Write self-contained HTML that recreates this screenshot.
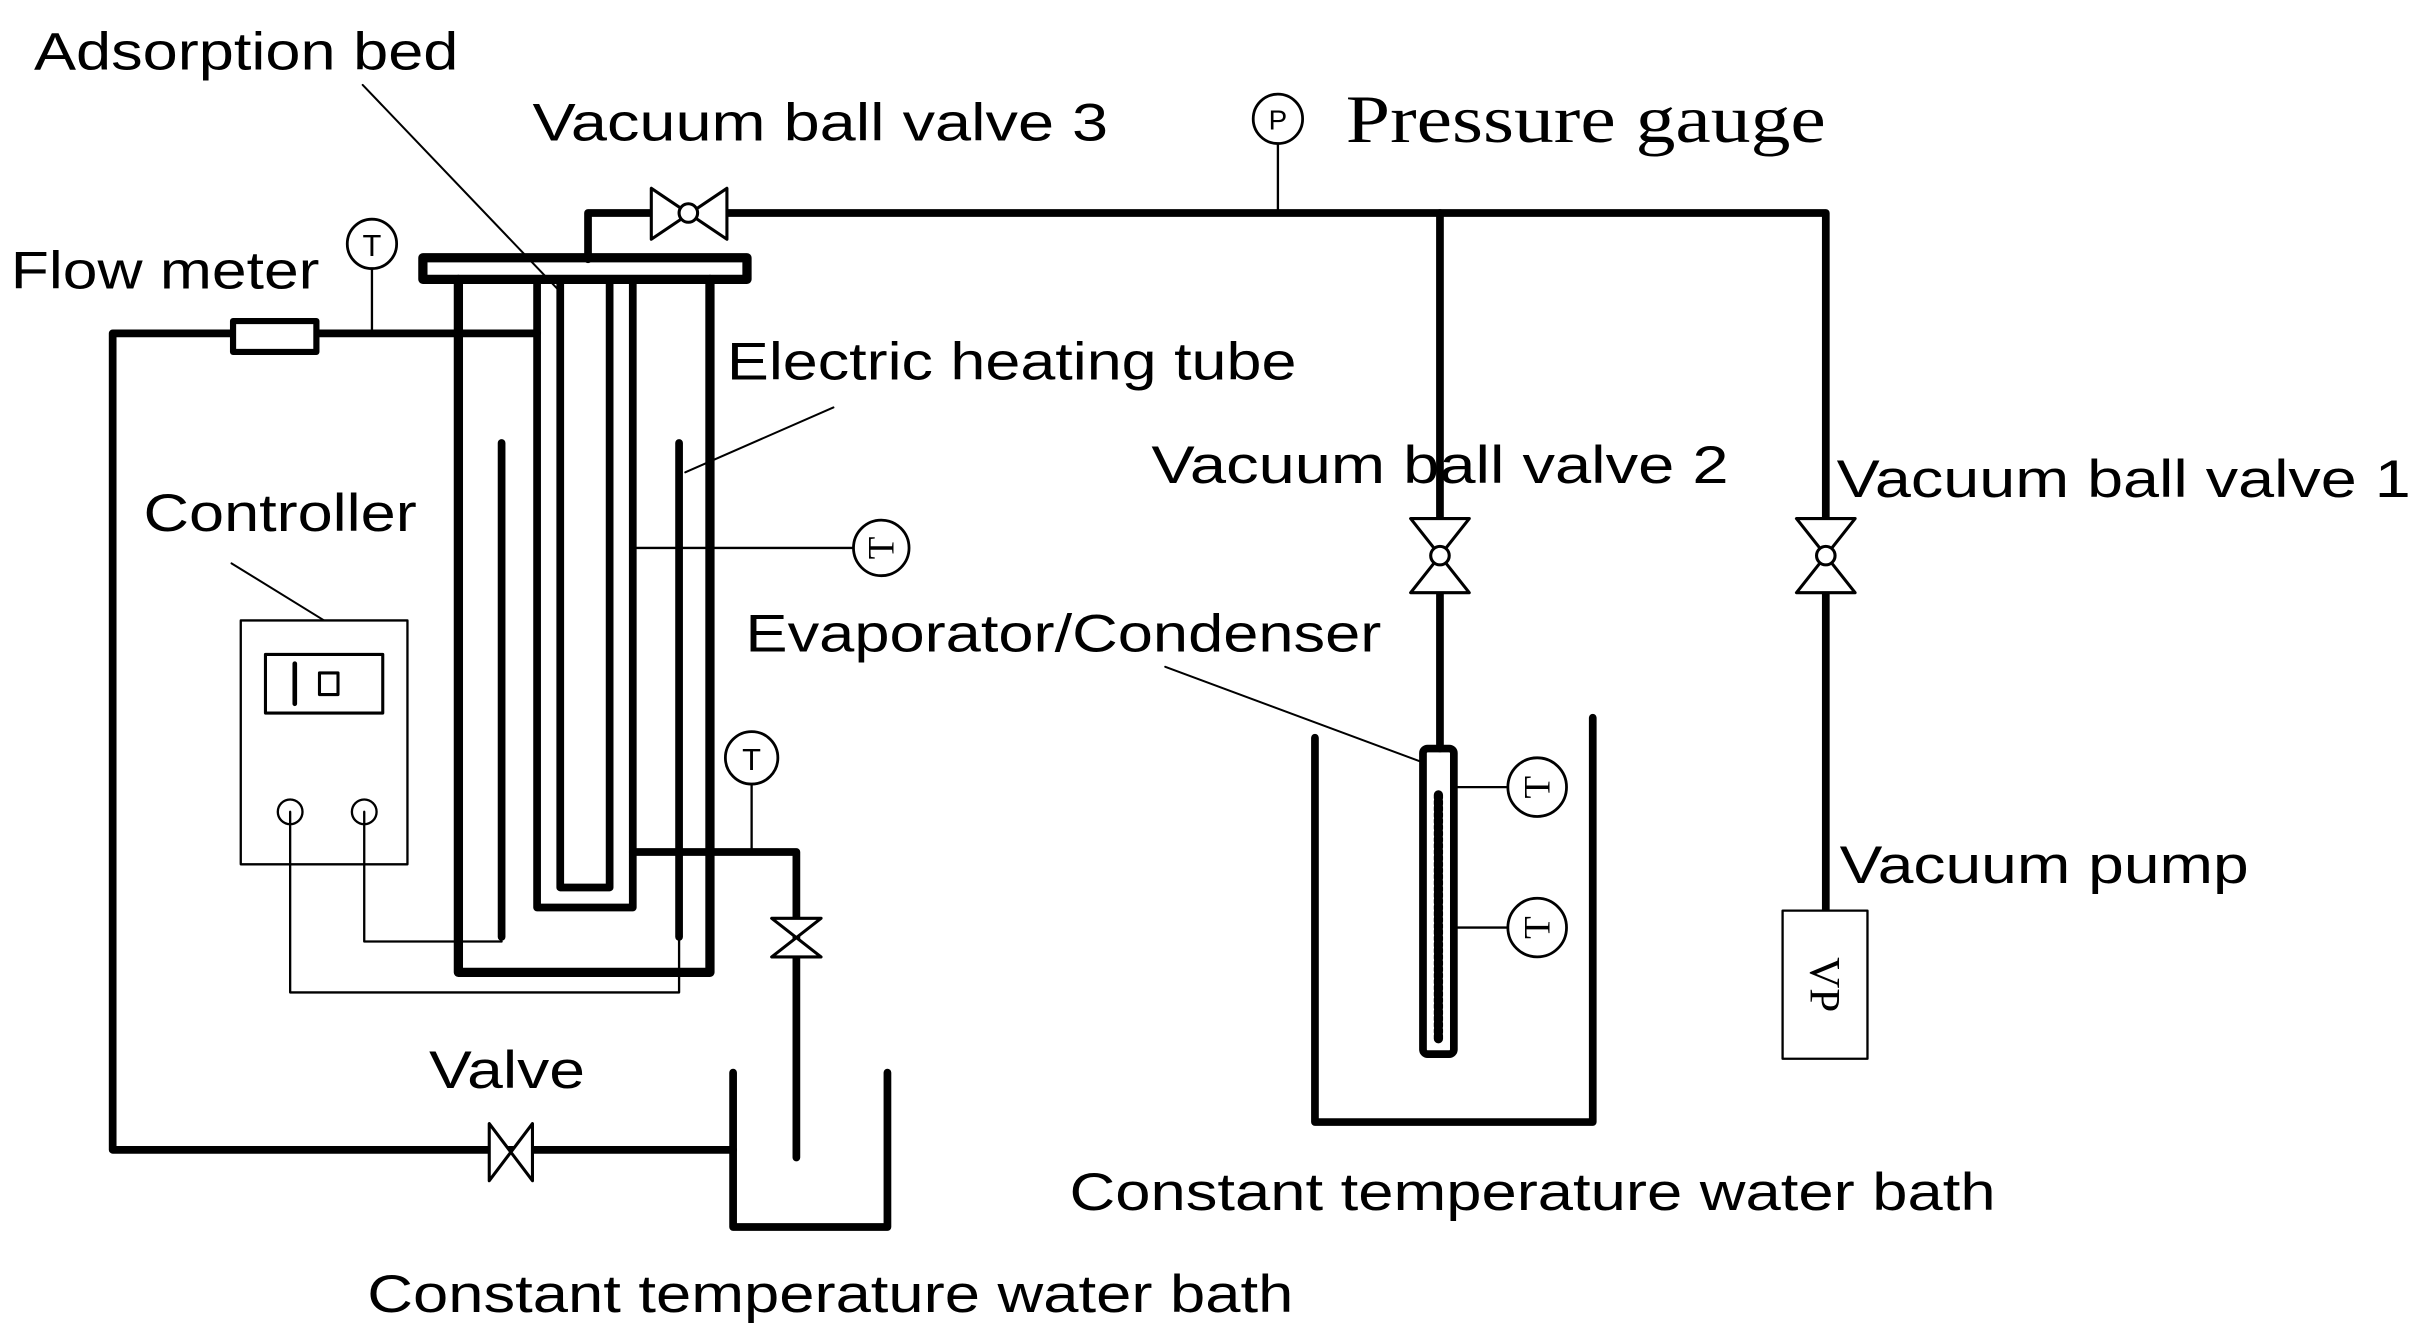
<!DOCTYPE html>
<html><head><meta charset="utf-8"><style>
html,body{margin:0;padding:0;background:#fff;width:2420px;height:1342px;overflow:hidden}
svg{display:block}
text{font-family:"Liberation Sans",Arial,sans-serif;fill:#000}
</style></head><body>
<svg width="2420" height="1342" viewBox="0 0 1568 869.5" xmlns="http://www.w3.org/2000/svg">
<g fill="none" stroke="#000" stroke-linejoin="round" stroke-linecap="round">
<polyline points="381,168 381,138 1183,138 1183,590" stroke-width="5"/>
<line x1="933" y1="138" x2="933" y2="485" stroke-width="5"/>
<g stroke-width="2" fill="#fff"><path d="M422,122 L422,155 L471,122 L471,155 Z"/><circle cx="446" cy="138" r="6"/></g>
<line x1="828" y1="94" x2="828" y2="138" stroke-width="1.5"/>
<circle cx="828" cy="77" r="16" stroke-width="1.8" fill="#fff"/>
<g stroke-width="2" fill="#fff"><path d="M914,336 L952,336 L914,384 L952,384 Z"/><circle cx="933" cy="360" r="6"/>
<path d="M1164,336 L1202,336 L1164,384 L1202,384 Z"/><circle cx="1183" cy="360" r="6"/></g>
<rect x="1155" y="590" width="55" height="96" stroke-width="1.5" fill="#fff"/>
<rect x="274" y="167" width="210" height="14" stroke-width="6"/>
<line x1="279" y1="174" x2="479" y2="174" stroke-width="1.2" stroke="#fff"/>
<polyline points="297,181 297,630 460,630 460,181" stroke-width="6"/>
<polyline points="348,181 348,588 410,588 410,181" stroke-width="5"/>
<polyline points="363,181 363,575 395,575 395,181" stroke-width="5"/>
<line x1="325" y1="287" x2="325" y2="607" stroke-width="5"/>
<line x1="440" y1="287" x2="440" y2="607" stroke-width="5"/>
<polyline points="348,216 73,216 73,745 475,745" stroke-width="5"/>
<rect x="151" y="208" width="54" height="20" stroke-width="4" fill="#fff"/>
<line x1="241" y1="175" x2="241" y2="216" stroke-width="1.5"/>
<circle cx="241" cy="158" r="16" stroke-width="1.8" fill="#fff"/>
<polyline points="410,552 516,552 516,750" stroke-width="5"/>
<line x1="487" y1="508" x2="487" y2="552" stroke-width="1.5"/>
<circle cx="487" cy="491" r="17" stroke-width="1.8" fill="#fff"/>
<path d="M500,595 L532,595 L500,620 L532,620 Z" stroke-width="2" fill="#fff"/>
<path d="M317,728 L317,765 L345,728 L345,765 Z" stroke-width="2" fill="#fff"/>
<polyline points="475,695 475,795 575,795 575,695" stroke-width="5"/>
<rect x="156" y="402" width="108" height="158" stroke-width="1.5"/>
<rect x="172" y="424" width="76" height="38" stroke-width="2"/>
<line x1="191" y1="430" x2="191" y2="456" stroke-width="3"/>
<rect x="207" y="436" width="12" height="14" stroke-width="2"/>
<circle cx="188" cy="526" r="8" stroke-width="1.5"/>
<circle cx="236" cy="526" r="8" stroke-width="1.5"/>
<polyline points="236,526 236,610 325,610" stroke-width="1.5"/>
<polyline points="188,526 188,643 440,643 440,607" stroke-width="1.5"/>
<line x1="410" y1="355" x2="553" y2="355" stroke-width="1.5"/>
<circle cx="571" cy="355" r="18" stroke-width="1.8" fill="#fff"/>
<polyline points="852,478 852,727 1032,727 1032,465" stroke-width="5"/>
<rect x="922" y="485" width="20" height="198" rx="3" stroke-width="5"/>
<line x1="932" y1="515" x2="932" y2="675" stroke-width="6" stroke-dasharray="2,2"/>
<line x1="942" y1="510" x2="978" y2="510" stroke-width="1.5"/>
<line x1="942" y1="601" x2="978" y2="601" stroke-width="1.5"/>
<circle cx="996" cy="510" r="19" stroke-width="1.8" fill="#fff"/>
<circle cx="996" cy="601" r="19" stroke-width="1.8" fill="#fff"/>
<g stroke-width="1.3">
<line x1="235" y1="55" x2="362" y2="188"/>
<line x1="540" y1="264" x2="444" y2="306"/>
<line x1="150" y1="365" x2="210" y2="402"/>
<line x1="755" y1="432" x2="922" y2="494"/>
</g>
</g>
<g font-size="20" text-anchor="middle">
<text x="828" y="84" font-size="18">P</text>
<text x="241" y="166">T</text>
<text x="487" y="499">T</text>
</g>
<g font-size="24" text-anchor="middle">
<text transform="translate(571,355) rotate(-90)" y="8" style="font-family:'Liberation Serif',serif">T</text>
<text transform="translate(996,510) rotate(-90)" y="8" style="font-family:'Liberation Serif',serif">T</text>
<text transform="translate(996,601) rotate(-90)" y="8" style="font-family:'Liberation Serif',serif">T</text>
<text transform="translate(1182,638) rotate(90)" y="9" font-size="28" style="font-family:'Liberation Serif',serif">VP</text>
</g>
<g font-size="34" lengthAdjust="spacingAndGlyphs">
<text x="22" y="45" textLength="275" lengthAdjust="spacingAndGlyphs">Adsorption bed</text>
<text x="345" y="91" textLength="373" lengthAdjust="spacingAndGlyphs">Vacuum ball valve 3</text>
<text x="7" y="187" textLength="200" lengthAdjust="spacingAndGlyphs">Flow meter</text>
<text x="471" y="246" textLength="369" lengthAdjust="spacingAndGlyphs">Electric heating tube</text>
<text x="93" y="344" textLength="177" lengthAdjust="spacingAndGlyphs">Controller</text>
<text x="746" y="313" textLength="374" lengthAdjust="spacingAndGlyphs">Vacuum ball valve 2</text>
<text x="1190" y="322" textLength="372" lengthAdjust="spacingAndGlyphs">Vacuum ball valve 1</text>
<text x="483" y="422" textLength="412" lengthAdjust="spacingAndGlyphs">Evaporator/Condenser</text>
<text x="1192" y="572" textLength="265" lengthAdjust="spacingAndGlyphs">Vacuum pump</text>
<text x="278" y="705" textLength="101" lengthAdjust="spacingAndGlyphs">Valve</text>
<text x="693" y="784" textLength="600" lengthAdjust="spacingAndGlyphs">Constant temperature water bath</text>
<text x="238" y="850" textLength="600" lengthAdjust="spacingAndGlyphs">Constant temperature water bath</text>
</g>
<text x="872" y="92" font-size="44" textLength="311" lengthAdjust="spacingAndGlyphs" style="font-family:'Liberation Serif',serif">Pressure gauge</text>
</svg>
</body></html>
